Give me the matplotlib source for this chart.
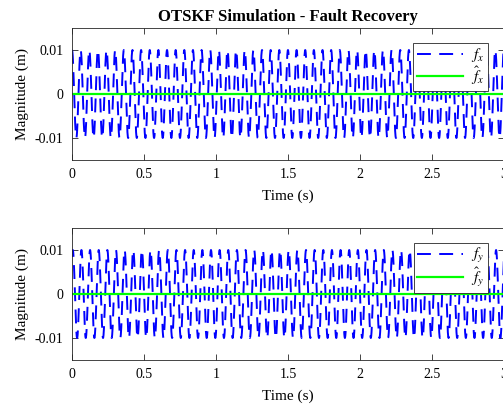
import numpy as np
import matplotlib
matplotlib.use("Agg")
import matplotlib.pyplot as plt

plt.rcParams['font.family'] = ['Liberation Serif', 'DejaVu Serif']
plt.rcParams['mathtext.fontset'] = 'stix'
plt.rcParams['axes.unicode_minus'] = False
plt.rcParams['lines.scale_dashes'] = False

# fault signals: amplitude (m), frequency (Hz), phase (rad)
t_end = 3.0
dt = 0.001
fault_amp = 0.01
fault_freq = 16.67
phase_x = np.pi / 2
phase_y = 1.0

x_ticks = [0, 0.5, 1, 1.5, 2, 2.5, 3]
x_ticklabels = ['0', '0.5', '1', '1.5', '2', '2.5', '3']
y_ticks = [-0.01, 0, 0.01]
y_ticklabels = ['-0.01', '0', '0.01']

t = np.arange(0, t_end + dt, dt)
f_x = fault_amp * np.sin(2 * np.pi * fault_freq * t + phase_x)
f_y = fault_amp * np.sin(2 * np.pi * fault_freq * t + phase_y)
# estimator output stays at zero after recovery
f_x_hat = np.zeros_like(t)
f_y_hat = np.zeros_like(t)

fig = plt.figure(figsize=(5.03, 4.11), dpi=100)
ax1 = fig.add_axes([72 / 503, 1 - 160 / 411, 432 / 503, 132 / 411])
ax2 = fig.add_axes([72 / 503, 1 - 360 / 411, 432 / 503, 132 / 411])

panels = [
    (ax1, f_x, f_x_hat, r'$f_x$', r'$\hat{f}_x$'),
    (ax2, f_y, f_y_hat, r'$f_y$', r'$\hat{f}_y$'),
]

for ax, real, est, lab, lab_hat in panels:
    ax.plot(t, real, color='#0000ff', lw=1.4, dashes=(10, 6), label=lab)
    ax.plot(t, est, color='#00ff00', lw=1.6, label=lab_hat)
    ax.set_xlim(0, 3)
    ax.set_ylim(-0.015, 0.015)
    ax.set_xticks(x_ticks)
    ax.set_xticklabels(x_ticklabels)
    ax.set_yticks(y_ticks)
    ax.set_yticklabels(y_ticklabels)
    ax.tick_params(direction='in', top=True, right=True, labelsize=10,
                   length=4, width=0.6, colors='#262626', labelcolor='black', pad=6)
    for sp in ax.spines.values():
        sp.set_color('#262626')
        sp.set_linewidth(0.6)
    ax.set_xlabel('Time (s)', fontsize=11, labelpad=6)
    ax.set_ylabel('Magnitude (m)', fontsize=11, labelpad=4)
    leg = ax.legend(loc='upper right', bbox_to_anchor=(0.963, 0.89), fontsize=11,
                    frameon=True, fancybox=False, framealpha=1.0,
                    edgecolor='#262626', handlelength=3.0, borderpad=0.25,
                    labelspacing=0.0, handletextpad=0.5, borderaxespad=0)
    leg.get_frame().set_linewidth(0.6)

ax1.set_title('OTSKF Simulation - Fault Recovery', fontsize=12,
              fontweight='bold', pad=5)

fig.savefig('out.png', dpi=100)
